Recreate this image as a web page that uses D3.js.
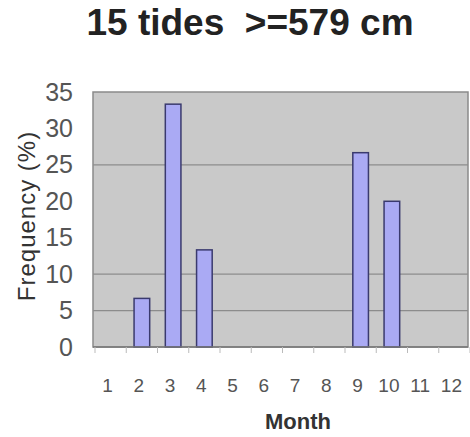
<!DOCTYPE html>
<html lang="en">
<head>
<meta charset="utf-8"/>
<style>
body { margin: 0; background: #fff; }
svg { display: block; font-family: Arial, "Liberation Sans", sans-serif; }
.axis .domain { display: none; }
</style>
</head>
<body>
<svg width="470" height="437"></svg>
<script src="https://d3js.org/d3.v7.min.js"></script>
<script>

// monthly share of the 15 highest tides
var months = ["1", "2", "3", "4", "5", "6", "7", "8", "9", "10", "11", "12"];
var freq = [0, 6.67, 33.33, 13.33, 0, 0, 0, 0, 26.67, 20, 0, 0];
var yTicks = [0, 5, 10, 15, 20, 25, 30, 35];
var gridAt = [5, 10, 25];

var svg = d3.select("svg"),
    margin = {top: 92, right: 2, bottom: 90, left: 93},
    width = +svg.attr("width") - margin.left - margin.right,
    height = +svg.attr("height") - margin.top - margin.bottom,
    g = svg.append("g").attr("transform", "translate(" + margin.left + "," + margin.top + ")");

var x = d3.scaleBand()
    .domain(months)
    .range([2, width + 2])
    .paddingInner(0.5)
    .paddingOuter(0.25);

var y = d3.scaleLinear()
    .domain([0, 35])
    .range([height, 0]);

// title (keep the double space)
svg.append("text")
    .attr("x", 250)
    .attr("y", 35)
    .attr("text-anchor", "middle")
    .attr("font-size", 37)
    .attr("font-weight", "bold")
    .attr("fill", "#222")
    .style("white-space", "pre")
    .text("15 tides  >=579 cm");

// plot area
g.append("rect")
    .attr("width", width)
    .attr("height", height)
    .attr("fill", "#c9c9c9")
    .attr("stroke", "#8a8a8a")
    .attr("stroke-width", 1.5);

// grid lines
g.append("g")
  .selectAll("line")
  .data(gridAt)
  .enter().append("line")
    .attr("x1", 0)
    .attr("x2", width)
    .attr("y1", function(d) { return y(d); })
    .attr("y2", function(d) { return y(d); })
    .attr("stroke", "#8c8c8c")
    .attr("stroke-width", 1.2);

// bars
g.append("g")
  .selectAll("rect")
  .data(freq.map(function(v, i) { return {m: months[i], v: v}; }).filter(function(d) { return d.v > 0; }))
  .enter().append("rect")
    .attr("x", function(d) { return x(d.m); })
    .attr("y", function(d) { return y(d.v); })
    .attr("width", x.bandwidth())
    .attr("height", function(d) { return y(0) - y(d.v); })
    .attr("fill", "#aaaaf4")
    .attr("stroke", "#3a3a6e")
    .attr("stroke-width", 1.5);

// bottom axis line and ticks between months
g.append("line")
    .attr("x1", 0).attr("x2", width)
    .attr("y1", height).attr("y2", height)
    .attr("stroke", "#777").attr("stroke-width", 1.5);

g.append("g")
  .selectAll("line")
  .data(months.concat(["end"]))
  .enter().append("line")
    .attr("x1", function(d, i) { return 2 + i * x.step(); })
    .attr("x2", function(d, i) { return 2 + i * x.step(); })
    .attr("y1", height)
    .attr("y2", height + 6)
    .attr("stroke", "#bbb");

// x tick labels
g.append("g")
    .attr("class", "axis")
    .attr("transform", "translate(0," + height + ")")
    .call(d3.axisBottom(x).tickSize(0).tickPadding(32))
    .call(function(a) {
      a.selectAll("text").attr("font-size", 19).attr("fill", "#555").attr("font-family", "Arial, sans-serif");
      a.selectAll("text").attr("dx", -3);
    });

// y tick labels
g.append("g")
    .attr("class", "axis")
    .call(d3.axisLeft(y).tickValues(yTicks).tickSize(0).tickPadding(20))
    .call(function(a) {
      a.selectAll("text").attr("font-size", 25).attr("fill", "#555").attr("font-family", "Arial, sans-serif");
    });

// axis titles
svg.append("text")
    .attr("x", 298)
    .attr("y", 429)
    .attr("text-anchor", "middle")
    .attr("font-size", 22)
    .attr("font-weight", "bold")
    .attr("fill", "#333")
    .text("Month");

svg.append("text")
    .attr("transform", "translate(35,216) rotate(-90)")
    .attr("text-anchor", "middle")
    .attr("font-size", 24)
    .attr("letter-spacing", 1)
    .attr("fill", "#333")
    .text("Frequency (%)");

</script>
</body>
</html>
